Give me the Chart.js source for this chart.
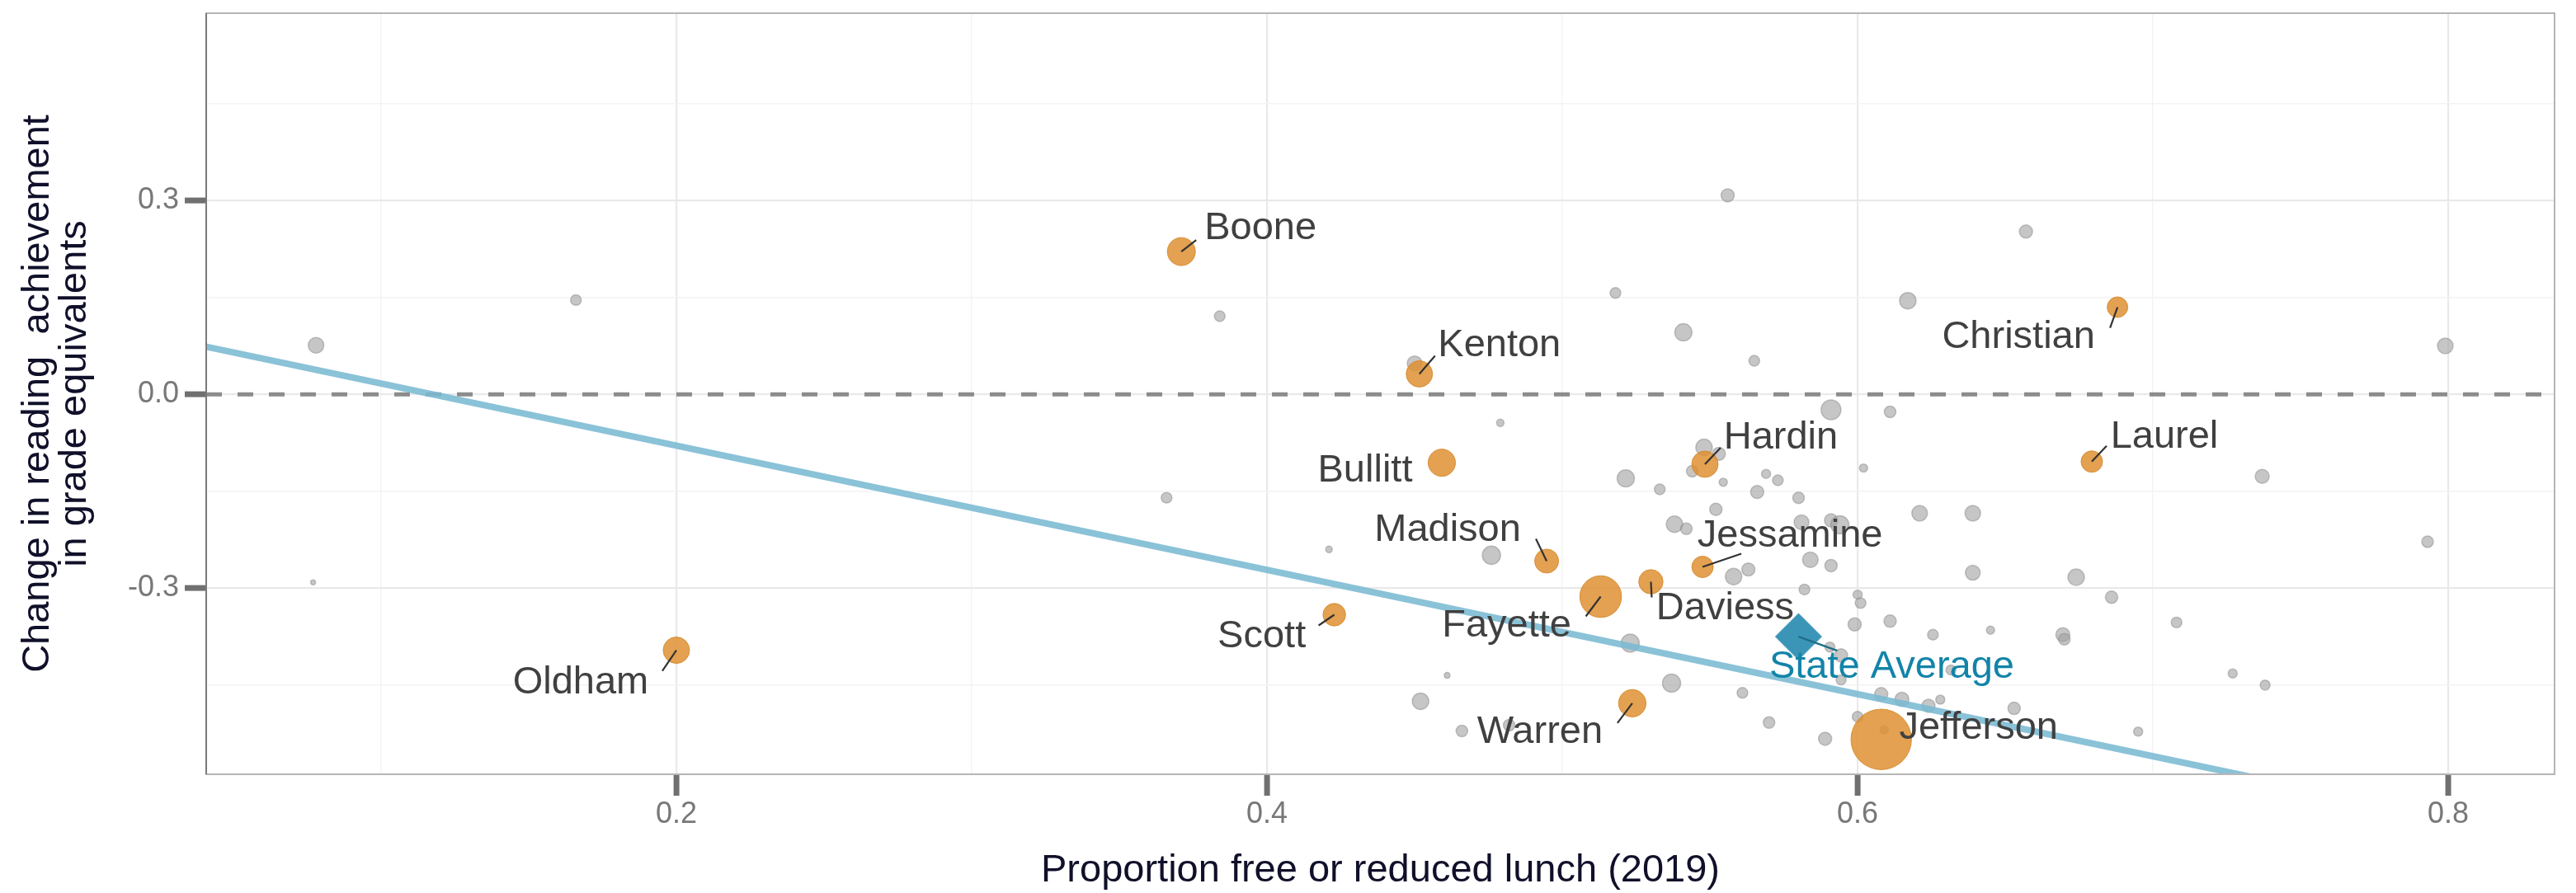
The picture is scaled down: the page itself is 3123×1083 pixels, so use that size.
<!DOCTYPE html>
<html>
<head>
<meta charset="utf-8">
<script src="https://cdn.jsdelivr.net/npm/chart.js@4.4.1/dist/chart.umd.min.js"></script>
<style>
  html, body { margin: 0; padding: 0; background: #fff; }
  #wrap { width: 3123px; height: 1083px; }
</style>
</head>
<body>
<div id="wrap"><canvas id="chart" width="3123" height="1083"></canvas></div>
<script>
// ---- data ----
// unlabeled districts: free/reduced lunch share, change in grade equivalents, enrollment (thousands, estimated)
const otherX = [0.078, 0.166, 0.077, 0.366, 0.421, 0.384, 0.450, 0.479, 0.476, 0.461,
  0.452, 0.466, 0.482, 0.518, 0.541, 0.565, 0.556, 0.657, 0.617, 0.799,
  0.591, 0.611, 0.602, 0.5215, 0.533, 0.548, 0.553, 0.544, 0.5545, 0.569,
  0.573, 0.566, 0.580, 0.552, 0.538, 0.542, 0.581, 0.591, 0.594, 0.621,
  0.639, 0.737, 0.793, 0.558, 0.563, 0.584, 0.591, 0.639, 0.674, 0.582,
  0.600, 0.601, 0.686, 0.599, 0.611, 0.708, 0.6255, 0.645, 0.6695, 0.670,
  0.523, 0.5906, 0.5944, 0.5944, 0.6316, 0.727, 0.738, 0.537, 0.561, 0.608,
  0.615, 0.624, 0.628, 0.653, 0.600, 0.570, 0.695, 0.589, 0.609];
const otherY = [0.076, 0.146, -0.291, -0.160, -0.240, 0.121, 0.048, -0.044, -0.249, -0.435,
  -0.475, -0.521, -0.512, 0.157, 0.096, 0.052, 0.308, 0.252, 0.145, 0.075,
  -0.024, -0.027, -0.114, -0.130, -0.147, -0.082, -0.092, -0.119, -0.136, -0.123,
  -0.133, -0.151, -0.160, -0.178, -0.201, -0.208, -0.198, -0.195, -0.202, -0.184,
  -0.184, -0.127, -0.228, -0.282, -0.271, -0.256, -0.265, -0.276, -0.283, -0.302,
  -0.310, -0.323, -0.314, -0.356, -0.351, -0.353, -0.372, -0.365, -0.372, -0.379,
  -0.385, -0.391, -0.404, -0.442, -0.4265, -0.432, -0.450, -0.447, -0.462, -0.464,
  -0.472, -0.482, -0.4725, -0.486, -0.499, -0.508, -0.522, -0.533, -0.519];
const otherEnroll = [6.2, 2.9, 0.6, 2.9, 1.1, 2.9, 5.6, 1.4, 8.4, 0.85,
  6.9, 3.4, 3.4, 2.9, 7.6, 2.9, 4.4, 4.4, 6.9, 6.2,
  10, 3.4, 1.7, 7.6, 2.9, 6.9, 4.4, 3.4, 1.7, 2.1,
  2.9, 4.4, 3.4, 3.9, 6.9, 3.4, 5.6, 4.4, 8.4, 6.2,
  6.2, 5.0, 3.4, 6.9, 4.4, 6.2, 3.9, 5.6, 6.9, 2.9,
  2.1, 2.9, 3.9, 4.4, 3.9, 2.9, 2.9, 1.7, 5.0, 3.4,
  8.4, 2.5, 4.4, 2.5, 2.5, 2.1, 2.5, 8.4, 2.9, 4.4,
  5.0, 4.4, 2.1, 3.9, 2.9, 3.4, 2.1, 4.4, 1.7];

// labeled (largest) districts
const countyNames = ['Boone', 'Kenton', 'Christian', 'Hardin', 'Laurel', 'Bullitt', 'Madison',
  'Jessamine', 'Daviess', 'Fayette', 'Scott', 'Oldham', 'Warren', 'Jefferson'];
const countyX = [0.371, 0.4516, 0.688, 0.5483, 0.6793, 0.4592, 0.4947,
  0.5475, 0.530, 0.513, 0.4228, 0.200, 0.5237, 0.608];
const countyY = [0.221, 0.0317, 0.135, -0.108, -0.104, -0.1058, -0.258,
  -0.267, -0.290, -0.313, -0.341, -0.396, -0.478, -0.534];
const countyEnroll = [20.0, 17.7, 10.8, 17.7, 11.7, 18.9, 14.6,
  11.7, 15.0, 44.3, 13.0, 17.7, 19.1, 93.3];

const stateAvgX = [0.580];
const stateAvgY = [-0.375];
const stateAvgName = 'State Average';

// fitted line, read at both ends (runs past the panel and is clipped)
const fitX = [0.03, 0.745];
const fitY = [0.0841, -0.6034];

const xLimits = [0.0408, 0.836];
const yLimits = [-0.588, 0.59];
const xTickLabels = ['0.2', '0.4', '0.6', '0.8'];
const yTickLabels = ['-0.3', '0.0', '0.3'];

// ---- label placement (pixels from the point: text centre, segment end) ----
const labelLayout = {
  'Boone': [96, -28, 18, -14],
  'Kenton': [97, -34, 19, -22],
  'Christian': [-120, 37, -9, 25],
  'Hardin': [92, -32, 19, -20],
  'Laurel': [88, -30, 18, -19],
  'Bullitt': [-93, 10, null, null],
  'Madison': [-120, -37, -13, -27],
  'Jessamine': [106, -37, 47, -16],
  'Daviess': [90, 33, 1, 19],
  'Fayette': [-114, 36, -18, 24],
  'Scott': [-88, 27, -19, 13],
  'Oldham': [-116, 39, -17, 25],
  'Warren': [-112, 35, -18, 24],
  'Jefferson': [118, -14, null, null],
  'State Average': [113, 37, 47, 17]
};

const FONT = "'Liberation Sans', Arial, sans-serif";
Chart.defaults.font.family = FONT;

const sizeToRadius = v => 3.8 * Math.sqrt(v);
const bubbles = (xs, ys, ns) => xs.map((v, i) => ({x: v, y: ys[i], r: sizeToRadius(ns[i])}));

const isLabelled = (v, list) => list.includes(v.toFixed(1));

const labelPlugin = {
  id: 'labels',
  afterDatasetsDraw(chart) {
    const {ctx, chartArea, scales} = chart;
    const xs = scales.x, ys = scales.y;

    // panel border
    ctx.save();
    ctx.strokeStyle = '#b5b5b5';
    ctx.lineWidth = 2;
    ctx.strokeRect(chartArea.left, chartArea.top, chartArea.right - chartArea.left, chartArea.bottom - chartArea.top);
    ctx.strokeStyle = '#7a7a7a';
    ctx.beginPath();
    ctx.moveTo(chartArea.left, chartArea.top);
    ctx.lineTo(chartArea.left, chartArea.bottom);
    ctx.stroke();

    const items = countyNames.map((n, i) => ({name: n, x: countyX[i], y: countyY[i], color: '#404040', seg: '#333333'}));
    items.push({name: stateAvgName, x: stateAvgX[0], y: stateAvgY[0], color: '#1284a8', seg: '#1d6e8a'});

    ctx.lineWidth = 2.2;
    items.forEach(it => {
      const lay = labelLayout[it.name];
      if (lay[2] === null) return;
      const px = xs.getPixelForValue(it.x), py = ys.getPixelForValue(it.y);
      ctx.strokeStyle = it.seg;
      ctx.beginPath();
      ctx.moveTo(px, py);
      ctx.lineTo(px + lay[2], py + lay[3]);
      ctx.stroke();
    });

    ctx.font = '47px ' + FONT;
    ctx.textAlign = 'center';
    ctx.textBaseline = 'middle';
    items.forEach(it => {
      const lay = labelLayout[it.name];
      const px = xs.getPixelForValue(it.x), py = ys.getPixelForValue(it.y);
      ctx.fillStyle = it.color;
      ctx.fillText(it.name, px + lay[0], py + lay[1]);
    });
    ctx.restore();
  }
};

new Chart(document.getElementById('chart'), {
  type: 'bubble',
  data: {
    datasets: [
      {
        type: 'scatter',
        order: 0,
        data: stateAvgX.map((v, i) => ({x: v, y: stateAvgY[i]})),
        pointStyle: 'rectRot',
        pointRadius: 28,
        backgroundColor: '#3b95b7',
        borderColor: '#3b95b7',
        borderWidth: 1
      },
      {
        order: 1,
        data: bubbles(countyX, countyY, countyEnroll),
        backgroundColor: 'rgba(222,145,50,0.85)',
        borderColor: 'rgba(214,138,44,0.9)',
        borderWidth: 1
      },
      {
        type: 'line',
        order: 2,
        data: fitX.map((v, i) => ({x: v, y: fitY[i]})),
        borderColor: 'rgba(122,186,211,0.88)',
        borderWidth: 8,
        pointRadius: 0,
        fill: false,
        clip: 0
      },
      {
        order: 3,
        data: bubbles(otherX, otherY, otherEnroll),
        backgroundColor: 'rgba(160,160,160,0.6)',
        borderColor: 'rgba(140,140,140,0.5)',
        borderWidth: 1.5
      },
      {
        type: 'line',
        order: 4,
        data: xLimits.map(v => ({x: v, y: 0})),
        borderColor: '#8c8c8c',
        borderWidth: 5,
        borderDash: [19, 19],
        pointRadius: 0,
        fill: false,
        clip: 0
      }
    ]
  },
  options: {
    responsive: false,
    devicePixelRatio: 1,
    animation: false,
    events: [],
    layout: {autoPadding: false, padding: {left: 0, top: 16, right: 26, bottom: 0}},
    plugins: {legend: {display: false}, tooltip: {enabled: false}},
    scales: {
      x: {
        type: 'linear',
        min: xLimits[0],
        max: xLimits[1],
        afterFit: s => { s.height = 144; s.paddingLeft = 0; s.paddingRight = 0; },
        border: {display: false},
        grid: {
          color: c => isLabelled(c.tick.value, xTickLabels) ? '#e9e9e9' : '#f3f3f3',
          lineWidth: c => isLabelled(c.tick.value, xTickLabels) ? 2.2 : 1.4,
          tickLength: 26,
          tickWidth: c => isLabelled(c.tick.value, xTickLabels) ? 7 : 0,
          tickColor: '#707070'
        },
        ticks: {
          stepSize: 0.1,
          includeBounds: false,
          autoSkip: false,
          maxRotation: 0,
          padding: 1,
          color: '#787878',
          font: {size: 36},
          callback: v => isLabelled(v, xTickLabels) ? v.toFixed(1) : ''
        },
        title: {
          display: true,
          text: 'Proportion free or reduced lunch (2019)',
          color: '#10102a',
          font: {size: 47, lineHeight: 1},
          padding: {top: 0, bottom: 3}
        }
      },
      y: {
        type: 'linear',
        min: yLimits[0],
        max: yLimits[1],
        afterFit: s => { s.width = 250; s.paddingTop = 0; s.paddingBottom = 0; },
        border: {display: false},
        grid: {
          color: c => isLabelled(c.tick.value, yTickLabels) ? '#e9e9e9' : '#f3f3f3',
          lineWidth: c => isLabelled(c.tick.value, yTickLabels) ? 2.2 : 1.4,
          tickLength: 26,
          tickWidth: c => isLabelled(c.tick.value, yTickLabels) ? 7 : 0,
          tickColor: '#707070'
        },
        ticks: {
          stepSize: 0.15,
          includeBounds: false,
          autoSkip: false,
          padding: 7,
          color: '#787878',
          font: {size: 36},
          callback: v => isLabelled(v, yTickLabels) ? v.toFixed(1) : ''
        },
        title: {
          display: true,
          text: ['Change in reading  achievement', 'in grade equivalents'],
          color: '#10102a',
          font: {size: 47, lineHeight: 0.97},
          padding: {top: 23, bottom: 0}
        }
      }
    }
  },
  plugins: [labelPlugin]
});
</script>
</body>
</html>
